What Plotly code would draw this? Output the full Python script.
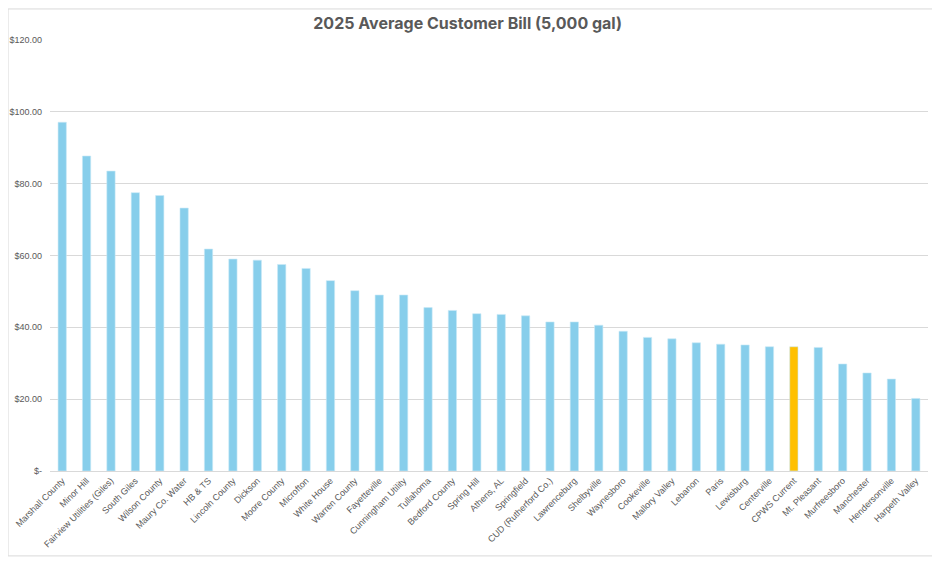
import plotly.graph_objects as go

utilities = [
    "Marshall County", "Minor Hill", "Fairview Utilities (Giles)", "South Giles",
    "Wilson County", "Maury Co. Water", "HB & TS", "Lincoln County", "Dickson",
    "Moore County", "Microfton", "White House", "Warren County", "Fayetteville",
    "Cunningham Utility", "Tullahoma", "Bedford County", "Spring Hill", "Athens, AL",
    "Springfield", "CUD (Rutherford Co.)", "Lawrenceburg", "Shelbyville", "Waynesboro",
    "Cookeville", "Mallory Valley", "Lebanon", "Paris", "Lewisburg", "Centerville",
    "CPWS Current", "Mt. Pleasant", "Murfreesboro", "Manchester", "Hendersonville",
    "Harpeth Valley",
]
avg_bill = [
    97.1, 87.7, 83.5, 77.5, 76.7, 73.2, 61.8, 59.0, 58.7, 57.5, 56.4, 53.0,
    50.2, 49.0, 49.0, 45.5, 44.7, 43.8, 43.6, 43.2, 41.5, 41.5, 40.6, 38.9,
    37.2, 36.8, 35.7, 35.3, 35.1, 34.6, 34.6, 34.4, 29.8, 27.3, 25.6, 20.2,
]
highlight = "CPWS Current"

tick_vals = [0, 20, 40, 60, 80, 100, 120]
tick_text = ["$-", "$20.00", "$40.00", "$60.00", "$80.00", "$100.00", "$120.00"]

colors = ["#FFC000" if u == highlight else "#87CEEB" for u in utilities]

fig = go.Figure()
fig.add_bar(
    x=utilities, y=avg_bill,
    marker=dict(color=colors, line=dict(color="#C9E9F6", width=0.6)),
    hoverinfo="x+y",
)

# page body has an 8px margin, so the margins are shifted to line up
fig.update_layout(
    width=940, height=574,
    margin=dict(l=42, r=20, t=32, b=111),
    paper_bgcolor="white", plot_bgcolor="white",
    font=dict(family="Liberation Sans, Arial, sans-serif", color="#595959", size=9),
    title=dict(text="<b>2025 Average Customer Bill (5,000 gal)</b>",
               x=0.489, xanchor="center", y=0.973, yanchor="middle",
               font=dict(family="Inter, Liberation Sans, sans-serif", size=16, color="#595959")),
    bargap=0.66,
    showlegend=False,
    xaxis=dict(tickangle=-45, showgrid=False, showline=True, linecolor="#D9D9D9",
               linewidth=1, ticks="", automargin=False,
               tickfont=dict(size=9, color="#595959")),
    yaxis=dict(range=[0, 120], tickvals=tick_vals, ticktext=tick_text,
               showgrid=True, gridcolor="#D9D9D9", gridwidth=1, zeroline=False,
               ticks="", ticklabelstandoff=7, automargin=False,
               tickfont=dict(size=9, color="#595959")),
    shapes=[dict(type="rect", xref="paper", yref="paper",
                 x0=-0.0478, x1=1.0114, y0=-0.197, y1=1.072,
                 line=dict(color="#D9D9D9", width=1), fillcolor="rgba(0,0,0,0)")],
)

fig.write_html("out.html")
